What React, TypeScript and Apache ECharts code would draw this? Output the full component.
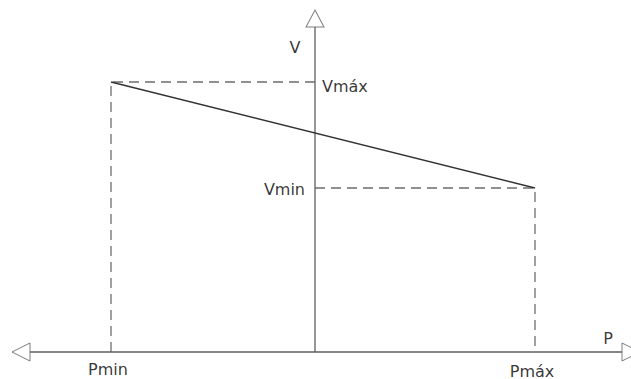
import React, { useEffect, useRef } from "react";
import * as echarts from "echarts";

// Schematic values (units relative to the origin)
const pMin = -204;
const pMax = 220;
const vMax = 270;
const vMin = 164;

// Axis extents
const xAxisRange = [-315, 316];
const yAxisRange = [-27, 352];
const pAxisLeftBase = -285;
const pAxisRightBase = 307;
const vAxisTopBase = 325;

const labelNames = ["V", "Vmáx", "Vmin", "P", "Pmin", "Pmáx"];

const AXIS_COLOR = "#5e5e5e";
const DASH_COLOR = "#6e6e6e";
const LINE_COLOR = "#333333";
const FONT = "DejaVu Sans";

export default function App() {
  const ref = useRef<HTMLDivElement>(null);
  useEffect(() => {
    if (!ref.current) return;
    const chart = echarts.init(ref.current, undefined, { renderer: "svg" });

    const labelStyle = {
      show: true,
      color: "#000",
      fontFamily: FONT,
      fontSize: 16,
    };

    const labelPoints = [
      { name: labelNames[0], value: [0, vAxisTopBase], label: { ...labelStyle, position: "inside", offset: [-20, 20] } },
      { name: labelNames[1], value: [0, vMax], label: { ...labelStyle, position: "right", distance: 7, offset: [0, 4] } },
      { name: labelNames[2], value: [0, vMin], label: { ...labelStyle, position: "left", distance: 10, offset: [0, 1] } },
      { name: labelNames[3], value: [pAxisRightBase, 0], label: { ...labelStyle, position: "inside", offset: [-14, -14] } },
      { name: labelNames[4], value: [pMin, 0], label: { ...labelStyle, position: "inside", offset: [-3, 17] } },
      { name: labelNames[5], value: [pMax, 0], label: { ...labelStyle, position: "inside", offset: [-3, 19] } },
    ];

    const arrowStyle = { color: "#ffffff", borderColor: AXIS_COLOR, borderWidth: 1 };

    chart.setOption({
      animation: false,
      grid: { left: 0, right: 0, top: 0, bottom: 0 },
      xAxis: {
        type: "value",
        min: xAxisRange[0],
        max: xAxisRange[1],
        show: false,
      },
      yAxis: {
        type: "value",
        min: yAxisRange[0],
        max: yAxisRange[1],
        show: false,
      },
      series: [
        {
          type: "line",
          data: [[pAxisLeftBase, 0], [pAxisRightBase, 0]],
          symbol: "none",
          lineStyle: { color: AXIS_COLOR, width: 1.3 },
          z: 2,
        },
        {
          type: "line",
          data: [[0, 0], [0, vAxisTopBase]],
          symbol: "none",
          lineStyle: { color: AXIS_COLOR, width: 1.3 },
          z: 2,
        },
        {
          type: "line",
          data: [[pMin, 0], [pMin, vMax], [0, vMax]],
          symbol: "none",
          lineStyle: { color: DASH_COLOR, width: 1.3, type: [10, 6] },
          z: 1,
        },
        {
          type: "line",
          data: [[0, vMin], [pMax, vMin], [pMax, 0]],
          symbol: "none",
          lineStyle: { color: DASH_COLOR, width: 1.3, type: [10, 6] },
          z: 1,
        },
        {
          type: "line",
          data: [[pMin, vMax], [pMax, vMin]],
          symbol: "none",
          lineStyle: { color: LINE_COLOR, width: 1.3 },
          z: 3,
        },
        {
          type: "scatter",
          clip: false,
          symbol: "triangle",
          z: 4,
          data: [
            { value: [pAxisLeftBase - 9, 0], symbolSize: [18, 18], symbolRotate: 90, itemStyle: arrowStyle },
            { value: [pAxisRightBase + 9, 0], symbolSize: [18, 18], symbolRotate: -90, itemStyle: arrowStyle },
            { value: [0, vAxisTopBase + 8.5], symbolSize: [18, 17], symbolRotate: 0, itemStyle: arrowStyle },
          ],
          silent: true,
        },
        {
          type: "scatter",
          clip: false,
          symbolSize: 0,
          z: 5,
          data: labelPoints,
          label: { formatter: "{b}" },
          silent: true,
        },
      ],
    });
    return () => chart.dispose();
  }, []);

  return (
    <div
      ref={ref}
      style={{ position: "fixed", left: 0, top: 0, width: 631, height: 379, background: "#fff" }}
    />
  );
}
